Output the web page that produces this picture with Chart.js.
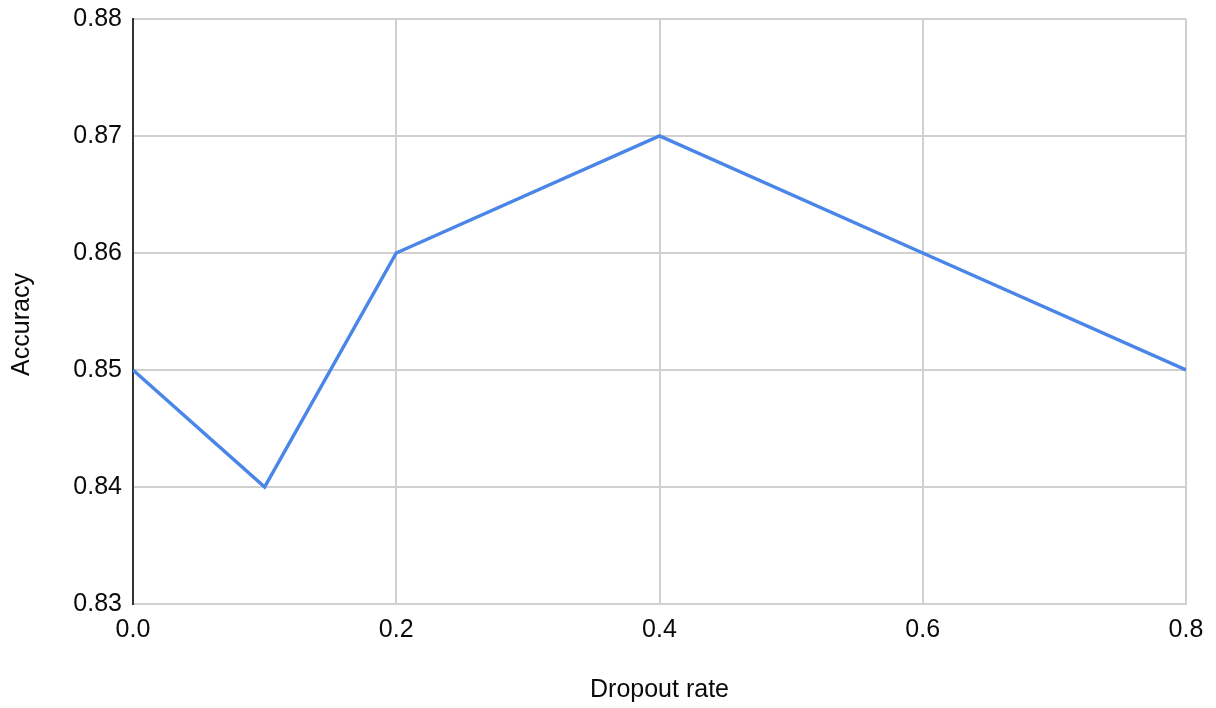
<!DOCTYPE html>
<html>
<head>
<meta charset="utf-8">
<script src="https://cdn.jsdelivr.net/npm/chart.js@4/dist/chart.umd.min.js"></script>
<style>
  html, body { margin: 0; padding: 0; background: #fff; }
  #wrap { width: 1216px; height: 708px; }
</style>
</head>
<body>
<div id="wrap"><canvas id="c" width="1216" height="708"></canvas></div>
<script>
// Validation accuracy for each dropout rate
const dropoutRates = [0.0, 0.1, 0.2, 0.4, 0.6, 0.8];
const accuracy = [0.85, 0.84, 0.86, 0.87, 0.86, 0.85];

const xTicks = [0.0, 0.2, 0.4, 0.6, 0.8];
const yTicks = [0.83, 0.84, 0.85, 0.86, 0.87, 0.88];

const yTitle = 'Accuracy';
const xTitle = 'Dropout rate';

const FONT = '"Liberation Sans", Arial, Helvetica, sans-serif';
const GRID = '#d0d0d0';
const TEXT = '#0a0a0a';

// Vertical axis title, drawn a little below the plot's vertical centre
const yTitlePlugin = {
  id: 'yTitle',
  afterDraw(chart) {
    const { ctx, chartArea } = chart;
    ctx.save();
    ctx.translate(22, (chartArea.top + chartArea.bottom) / 2 + 13);
    ctx.rotate(-Math.PI / 2);
    ctx.font = '25px ' + FONT;
    ctx.fillStyle = TEXT;
    ctx.textAlign = 'center';
    ctx.textBaseline = 'middle';
    ctx.fillText(yTitle, 0, 0);
    ctx.restore();
  }
};

new Chart(document.getElementById('c'), {
  type: 'line',
  data: {
    datasets: [{
      label: yTitle,
      data: dropoutRates.map((x, i) => ({ x: x, y: accuracy[i] })),
      borderColor: '#4a86e8',
      borderWidth: 3.5,
      pointRadius: 0,
      tension: 0,
      fill: false
    }]
  },
  plugins: [yTitlePlugin],
  options: {
    responsive: false,
    animation: false,
    layout: { padding: { top: 19, right: 30, left: 0, bottom: 0 } },
    plugins: { legend: { display: false }, tooltip: { enabled: false } },
    scales: {
      x: {
        type: 'linear',
        min: xTicks[0],
        max: xTicks[xTicks.length - 1],
        afterBuildTicks: s => { s.ticks = xTicks.map(v => ({ value: v })); },
        afterFit: s => { s.height = 104; },
        ticks: {
          callback: v => Number(v).toFixed(1),
          font: { family: FONT, size: 25 },
          color: TEXT,
          padding: 11,
          maxRotation: 0
        },
        grid: { color: GRID, lineWidth: 2, drawTicks: false },
        border: { color: GRID, width: 2 },
        title: {
          display: true,
          text: xTitle,
          font: { family: FONT, size: 25 },
          color: TEXT,
          padding: { top: 0, bottom: 3 }
        }
      },
      y: {
        type: 'linear',
        min: yTicks[0],
        max: yTicks[yTicks.length - 1],
        afterBuildTicks: s => { s.ticks = yTicks.map(v => ({ value: v })); },
        afterFit: s => { s.width = 133; s.paddingTop = 0; s.paddingBottom = 0; },
        ticks: {
          callback: v => Number(v).toFixed(2),
          font: { family: FONT, size: 25, lineHeight: 0.8 },
          color: TEXT,
          padding: 11
        },
        grid: { color: GRID, lineWidth: 2, drawTicks: false },
        border: { color: '#333333', width: 2 },
        title: { display: false }
      }
    }
  }
});
</script>
</body>
</html>
